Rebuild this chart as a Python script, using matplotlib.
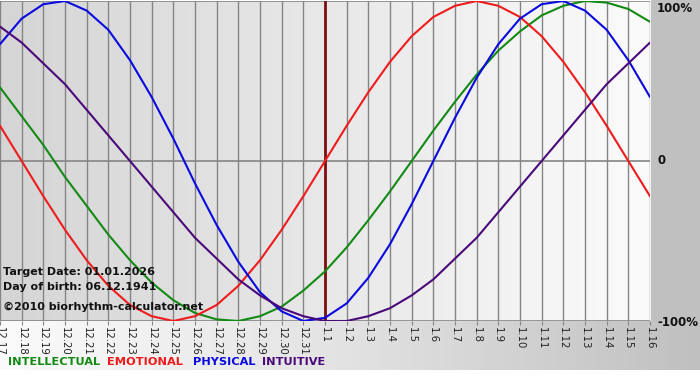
import matplotlib
matplotlib.use("Agg")
import matplotlib.pyplot as plt
import numpy as np

# day labels along the bottom (month.day)
days = ["12.17", "12.18", "12.19", "12.20", "12.21", "12.22", "12.23", "12.24",
        "12.25", "12.26", "12.27", "12.28", "12.29", "12.30", "12.31",
        "1.1", "1.2", "1.3", "1.4", "1.5", "1.6", "1.7", "1.8", "1.9", "1.10",
        "1.11", "1.12", "1.13", "1.14", "1.15", "1.16"]
target_day = "1.1"

# cycle values per day (-1 .. 1)
physical = [0.73, 0.89, 0.98, 1.00, 0.94, 0.82, 0.63, 0.40, 0.14, -0.14,
            -0.40, -0.63, -0.82, -0.94, -1.00, -0.98, -0.89, -0.73, -0.52, -0.27,
            0.00, 0.27, 0.52, 0.73, 0.89, 0.98, 1.00, 0.94, 0.82, 0.63, 0.40]
emotional = [0.22, 0.00, -0.22, -0.43, -0.62, -0.78, -0.90, -0.97, -1.00, -0.97,
             -0.90, -0.78, -0.62, -0.43, -0.22, 0.00, 0.22, 0.43, 0.62, 0.78,
             0.90, 0.97, 1.00, 0.97, 0.90, 0.78, 0.62, 0.43, 0.22, 0.00, -0.22]
intellectual = [0.46, 0.28, 0.10, -0.10, -0.28, -0.46, -0.62, -0.76, -0.87, -0.95,
                -0.99, -1.00, -0.97, -0.91, -0.81, -0.69, -0.54, -0.37, -0.19, 0.00,
                0.19, 0.37, 0.54, 0.69, 0.81, 0.91, 0.97, 1.00, 0.99, 0.95, 0.87]
intuitive = [0.84, 0.74, 0.61, 0.48, 0.32, 0.16, 0.00, -0.16, -0.32, -0.48,
             -0.61, -0.74, -0.84, -0.92, -0.97, -1.00, -1.00, -0.97, -0.92, -0.84,
             -0.74, -0.61, -0.48, -0.32, -0.16, 0.00, 0.16, 0.32, 0.48, 0.61, 0.74]

info_lines = ["Target Date: 01.01.2026", "Day of birth: 06.12.1941",
              "\u00a92010 biorhythm-calculator.net"]
scale_labels = ["100%", "0", "-100%"]

GREEN = "#138a13"
RED = "#ee1c1c"
BLUE = "#0a0ae0"
PURPLE = "#4a0a7a"
series = [("INTELLECTUAL", intellectual, GREEN),
          ("EMOTIONAL", emotional, RED),
          ("PHYSICAL", physical, BLUE),
          ("INTUITIVE", intuitive, PURPLE)]

W, H = 700, 380
fig = plt.figure(figsize=(W / 100, H / 100), dpi=100)


def fx(px):
    return px / W


def fy(py):
    return 1 - py / H


# background layer in pixel coordinates
bg = fig.add_axes([0, 0, 1, 1])
bg.set_xlim(0, W)
bg.set_ylim(H, 0)
bg.axis("off")
bg.add_patch(plt.Rectangle((0, 0), W, H, color="white", zorder=0))
bg.add_patch(plt.Rectangle((651, 0), W - 651, 322, color="#c0c0c0", zorder=1))
strip = np.linspace(0, 1, 256)[None, :]
bg.imshow(strip, cmap=matplotlib.colors.LinearSegmentedColormap.from_list(
    "strip", ["#fbfbfb", "#e2e2e2", "#c0c0c0"]),
    extent=(0, W, 370, 321), aspect="auto", zorder=1)

# main plot
ax = fig.add_axes([0, fy(321), fx(650), (321 - 1) / H])
n = len(days)
x = np.arange(n)
ax.set_xlim(0, n - 1)
ax.set_ylim(-1, 1)
ax.imshow(strip, cmap=matplotlib.colors.LinearSegmentedColormap.from_list(
    "plot", ["#d5d5d5", "#e8e8e8", "#fbfbfb"]),
    extent=(0, n - 1, -1, 1), aspect="auto", zorder=0)

for xi in x:
    ax.axvline(xi, color="#858585", lw=1, zorder=1)
for yv in (-1, 0, 1):
    ax.axhline(yv, color="#858585", lw=1.2, zorder=1)
ax.axvline(days.index(target_day), color="#7a1010", lw=2, zorder=2)

for name, vals, col in series:
    ax.plot(x, vals, color=col, lw=1.5, zorder=3, solid_capstyle="round",
            solid_joinstyle="round")

for s in ax.spines.values():
    s.set_visible(False)
ax.set_yticks([])
ax.set_xticks(x)
ax.set_xticklabels(days, rotation=270, fontsize=7.3, color="#222222")
ax.tick_params(axis="x", length=3, color="#858585", pad=1.5)

# texts inside the plot
for txt, py in zip(info_lines, [272, 287, 307]):
    fig.text(fx(3), fy(py), txt, fontsize=8.0, fontweight="bold",
             color="#111111", va="center", ha="left")

# right-hand scale
for txt, py in zip(scale_labels, [8, 161, 322]):
    fig.text(fx(657), fy(py), txt, fontsize=8.5, fontweight="bold",
             color="#111111", va="center", ha="left")

# legend words
for (name, vals, col), px in zip(series, [8, 107, 193, 262]):
    fig.text(fx(px), fy(362), name, fontsize=8.2, fontweight="bold",
             color=col, va="center", ha="left")

fig.savefig("out.png", dpi=100)
